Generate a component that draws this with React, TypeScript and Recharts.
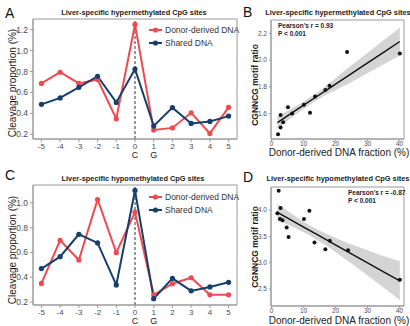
import React from 'react';
import {
  LineChart,
  Line,
  XAxis,
  YAxis,
  ReferenceLine,
  ReferenceArea,
  ComposedChart,
  Area,
  Scatter,
} from 'recharts';

// positions around the CpG (0 = C, 1 = G)
const positions = [-5, -4, -3, -2, -1, 0, 1, 2, 3, 4, 5];
const baseLabels = ['', '', '', '', '', 'C', 'G', '', '', '', ''];

// cleavage proportion (%), hypermethylated sites
const donorHyper = [0.686, 0.793, 0.686, 0.724, 0.348, 1.25, 0.242, 0.261, 0.405, 0.208, 0.458];
const sharedHyper = [0.486, 0.548, 0.649, 0.755, 0.505, 0.824, 0.28, 0.455, 0.304, 0.323, 0.374];

// cleavage proportion (%), hypomethylated sites
const donorHypo = [0.35, 0.698, 0.539, 1.027, 0.598, 0.926, 0.258, 0.348, 0.396, 0.258, 0.258];
const sharedHypo = [0.47, 0.566, 0.746, 0.677, 0.338, 1.1, 0.227, 0.391, 0.29, 0.322, 0.359];

const cleavageTicksA = [0.2, 0.4, 0.6, 0.8, 1.0, 1.2];
const cleavageTicksC = [0.2, 0.4, 0.6, 0.8, 1.0];

// scatter: donor-derived fraction (%) vs CGNNCG motif ratio
const fractionB = [2.0, 2.8, 2.8, 3.6, 5.1, 6.4, 10.1, 12.0, 13.6, 16.8, 18.1, 23.6, 40.1];
const ratioB = [1.445, 1.59, 1.496, 1.536, 1.647, 1.6, 1.666, 1.606, 1.727, 1.777, 1.808, 2.06, 2.05];

const fractionD = [2.2, 1.8, 2.8, 2.6, 3.4, 4.7, 5.3, 10.1, 11.8, 13.4, 16.8, 18.2, 23.9, 40.1];
const ratioD = [4.37, 3.94, 4.04, 3.83, 3.81, 3.67, 3.49, 3.83, 3.99, 3.385, 3.26, 3.42, 3.24, 2.68];

// fitted line and confidence band
const fitX = [1.8, 6, 10, 14, 18, 24, 30, 35, 40.1];
const fitB = [1.533, 1.6, 1.663, 1.726, 1.789, 1.884, 1.979, 2.058, 2.139];
const bandLoB = [1.488, 1.566, 1.635, 1.698, 1.752, 1.824, 1.904, 1.968, 2.034];
const bandHiB = [1.578, 1.634, 1.691, 1.754, 1.826, 1.944, 2.054, 2.148, 2.244];
const fitD = [3.959, 3.816, 3.68, 3.544, 3.408, 3.204, 3.0, 2.83, 2.657];
const bandLoD = [3.8, 3.7, 3.58, 3.44, 3.29, 3.03, 2.76, 2.53, 2.29];
const bandHiD = [4.12, 3.94, 3.78, 3.64, 3.53, 3.37, 3.24, 3.13, 3.03];

const fractionTicks = [0, 10, 20, 30, 40];
const ratioTicksB = [1.6, 1.8, 2.0, 2.2];
const ratioTicksD = [2.5, 3.0, 3.5, 4.0];

const RED = '#ee4a4f';
const BLUE = '#163f6c';
const GREY = '#9a9a9a';
const TICK = '#4d4d4d';
const FONT = '"Liberation Sans", Arial, sans-serif';

const hyperRows = positions.map((p, i) => ({ pos: p, donor: donorHyper[i], shared: sharedHyper[i] }));
const hypoRows = positions.map((p, i) => ({ pos: p, donor: donorHypo[i], shared: sharedHypo[i] }));
const fitRowsB = fitX.map((x, i) => ({ x, fit: fitB[i], band: [bandLoB[i], bandHiB[i]] }));
const fitRowsD = fitX.map((x, i) => ({ x, fit: fitD[i], band: [bandLoD[i], bandHiD[i]] }));
const pointsB = fractionB.map((x, i) => ({ x, y: ratioB[i] }));
const pointsD = fractionD.map((x, i) => ({ x, y: ratioD[i] }));

// tick label plus the base letter (C / G) under it
const PosTick = (props: any) => {
  const { x, y, payload } = props;
  const idx = positions.indexOf(payload.value);
  const base = idx >= 0 ? baseLabels[idx] : '';
  return (
    <g>
      <text x={x} y={y + 5.5} textAnchor="middle" fontSize={8} fill={TICK} fontFamily={FONT}>
        {payload.value}
      </text>
      {base && (
        <text x={x} y={y + 15} textAnchor="middle" fontSize={9} fill="#222" fontFamily={FONT}>
          {base}
        </text>
      )}
    </g>
  );
};

const dotShape = (props: any) => <circle cx={props.cx} cy={props.cy} r={2} fill="#111" />;

function ProfileChart({ rows, yDomain, yTicks, top, height, marginTop }: any) {
  const xDomain = [-5.45, 5.45];
  return (
    <div style={{ position: 'absolute', left: 0, top }}>
      <LineChart width={240} height={height} data={rows} margin={{ top: marginTop, right: 3, bottom: 0, left: 0 }}>
        <XAxis
          dataKey="pos"
          type="number"
          domain={xDomain}
          ticks={positions}
          interval={0}
          height={height - marginTop - 120}
          tick={(p: any) => <PosTick {...p} />}
          tickLine={{ stroke: GREY }}
          axisLine={{ stroke: GREY }}
          tickSize={3}
          tickMargin={1}
          allowDataOverflow
        />
        <YAxis
          type="number"
          domain={yDomain}
          ticks={yTicks}
          width={33}
          tickFormatter={(v: number) => v.toFixed(1)}
          tick={{ fontSize: 8.5, fill: TICK, fontFamily: FONT }}
          tickLine={{ stroke: GREY }}
          axisLine={{ stroke: GREY }}
          tickSize={3}
          allowDataOverflow
        />
        <ReferenceArea
          x1={xDomain[0]}
          x2={xDomain[1]}
          y1={yDomain[0]}
          y2={yDomain[1]}
          fill="none"
          stroke={GREY}
          strokeWidth={1}
        />
        <ReferenceLine x={0} stroke="#333" strokeDasharray="3 2" strokeWidth={1} />
        <Line
          dataKey="donor"
          stroke={RED}
          strokeWidth={2}
          dot={{ r: 2.6, fill: RED, stroke: RED, strokeWidth: 0 }}
          isAnimationActive={false}
        />
        <Line
          dataKey="shared"
          stroke={BLUE}
          strokeWidth={2}
          dot={{ r: 2.6, fill: BLUE, stroke: BLUE, strokeWidth: 0 }}
          isAnimationActive={false}
        />
      </LineChart>
    </div>
  );
}

function CorrChart({ rows, points, yDomain, yTicks, top, height, marginTop }: any) {
  const xDomain = [-0.2, 41.4];
  return (
    <div style={{ position: 'absolute', left: 238, top }}>
      <ComposedChart width={172} height={height} data={rows} margin={{ top: marginTop, right: 6, bottom: 0, left: 0 }}>
        <XAxis
          dataKey="x"
          type="number"
          domain={xDomain}
          ticks={fractionTicks}
          interval={0}
          height={height - marginTop - 119}
          tick={{ fontSize: 6.5, fill: TICK, fontFamily: FONT }}
          tickLine={{ stroke: GREY }}
          axisLine={{ stroke: GREY }}
          tickSize={2}
          tickMargin={0}
          allowDataOverflow
        />
        <YAxis
          type="number"
          domain={yDomain}
          ticks={yTicks}
          width={33}
          tickFormatter={(v: number) => v.toFixed(1)}
          tick={{ fontSize: 6.5, fill: TICK, fontFamily: FONT }}
          tickLine={{ stroke: GREY }}
          axisLine={{ stroke: GREY }}
          tickSize={2}
          allowDataOverflow
        />
        <Area
          dataKey="band"
          type="monotone"
          stroke="none"
          fill="#d4d4d4"
          fillOpacity={1}
          isAnimationActive={false}
        />
        <Line dataKey="fit" type="linear" stroke="#111" strokeWidth={1.4} dot={false} isAnimationActive={false} />
        <Scatter data={points} dataKey="y" fill="#111" shape={dotShape} isAnimationActive={false} />
        <ReferenceArea
          x1={xDomain[0]}
          x2={xDomain[1]}
          y1={yDomain[0]}
          y2={yDomain[1]}
          fill="none"
          stroke={GREY}
          strokeWidth={1}
        />
      </ComposedChart>
    </div>
  );
}

function LegendMarks({ y }: { y: number }) {
  const items = [
    { label: 'Donor-derived DNA', color: RED },
    { label: 'Shared DNA', color: BLUE },
  ];
  return (
    <g>
      {items.map((it, i) => (
        <g key={it.label}>
          <line x1={149} x2={162} y1={y + i * 13} y2={y + i * 13} stroke={it.color} strokeWidth={2} />
          <circle cx={155.5} cy={y + i * 13} r={2.6} fill={it.color} />
          <text x={165} y={y + i * 13 + 3} fontSize={8.5} fill="#333" fontFamily={FONT}>
            {it.label}
          </text>
        </g>
      ))}
    </g>
  );
}

export default function App() {
  return (
    <div style={{ position: 'absolute', left: 0, top: 0, width: 410, height: 326, background: '#fff', fontFamily: FONT }}>
      <ProfileChart rows={hyperRows} yDomain={[0.155, 1.302]} yTicks={cleavageTicksA} top={0} height={165} marginTop={19} />
      <ProfileChart rows={hypoRows} yDomain={[0.176, 1.144]} yTicks={cleavageTicksC} top={163} height={163} marginTop={22} />
      <CorrChart rows={fitRowsB} points={pointsB} yDomain={[1.41, 2.3]} yTicks={ratioTicksB} top={0} height={165} marginTop={20} />
      <CorrChart rows={fitRowsD} points={pointsD} yDomain={[2.18, 4.44]} yTicks={ratioTicksD} top={163} height={163} marginTop={24} />
      <svg width={410} height={326} style={{ position: 'absolute', left: 0, top: 0, pointerEvents: 'none' }}>
        <g fontFamily={FONT}>
          <text x={5} y={18} fontSize={14} fill="#111">A</text>
          <text x={243} y={17} fontSize={14} fill="#111">B</text>
          <text x={5} y={180} fontSize={14} fill="#111">C</text>
          <text x={243} y={182} fontSize={14} fill="#111">D</text>

          <text x={134} y={14.5} fontSize={7.4} fontWeight="bold" fill="#222" textAnchor="middle">
            Liver-specific hypermethylated CpG sites
          </text>
          <text x={338} y={14.5} fontSize={7.4} fontWeight="bold" fill="#222" textAnchor="middle">
            Liver-specific hypermethylated CpG sites
          </text>
          <text x={133} y={180.5} fontSize={7.4} fontWeight="bold" fill="#222" textAnchor="middle">
            Liver-specific hypomethylated CpG sites
          </text>
          <text x={338} y={180.5} fontSize={7.4} fontWeight="bold" fill="#222" textAnchor="middle">
            Liver-specific hypomethylated CpG sites
          </text>

          <text transform="translate(15.5,83) rotate(-90)" fontSize={10} fill="#222" textAnchor="middle">
            Cleavage proportion (%)
          </text>
          <text transform="translate(15.5,250) rotate(-90)" fontSize={10} fill="#222" textAnchor="middle">
            Cleavage proportion (%)
          </text>

          <text transform="translate(258,85) rotate(-90)" fontSize={8.5} fontWeight="bold" fill="#222" textAnchor="middle">
            CGNNCG motif ratio
          </text>
          <text transform="translate(258,247) rotate(-90)" fontSize={8.5} fontWeight="bold" fill="#222" textAnchor="middle">
            CGNNCG motif ratio
          </text>
          <text x={339} y={155.5} fontSize={10} fill="#222" textAnchor="middle">
            Donor-derived DNA fraction (%)
          </text>
          <text x={339} y={323.5} fontSize={10} fill="#222" textAnchor="middle">
            Donor-derived DNA fraction (%)
          </text>

          <text x={278} y={27.5} fontSize={6.5} fontWeight="bold" fill="#1c2333">Pearson's r = 0.93</text>
          <text x={278} y={35.5} fontSize={6.5} fontWeight="bold" fill="#1c2333">P &lt; 0.001</text>
          <text x={348} y={194.5} fontSize={6.5} fontWeight="bold" fill="#1c2333">Pearson's r = -0.87</text>
          <text x={348} y={202.5} fontSize={6.5} fontWeight="bold" fill="#1c2333">P &lt; 0.001</text>
        </g>
        <LegendMarks y={30} />
        <LegendMarks y={197} />
      </svg>
    </div>
  );
}
